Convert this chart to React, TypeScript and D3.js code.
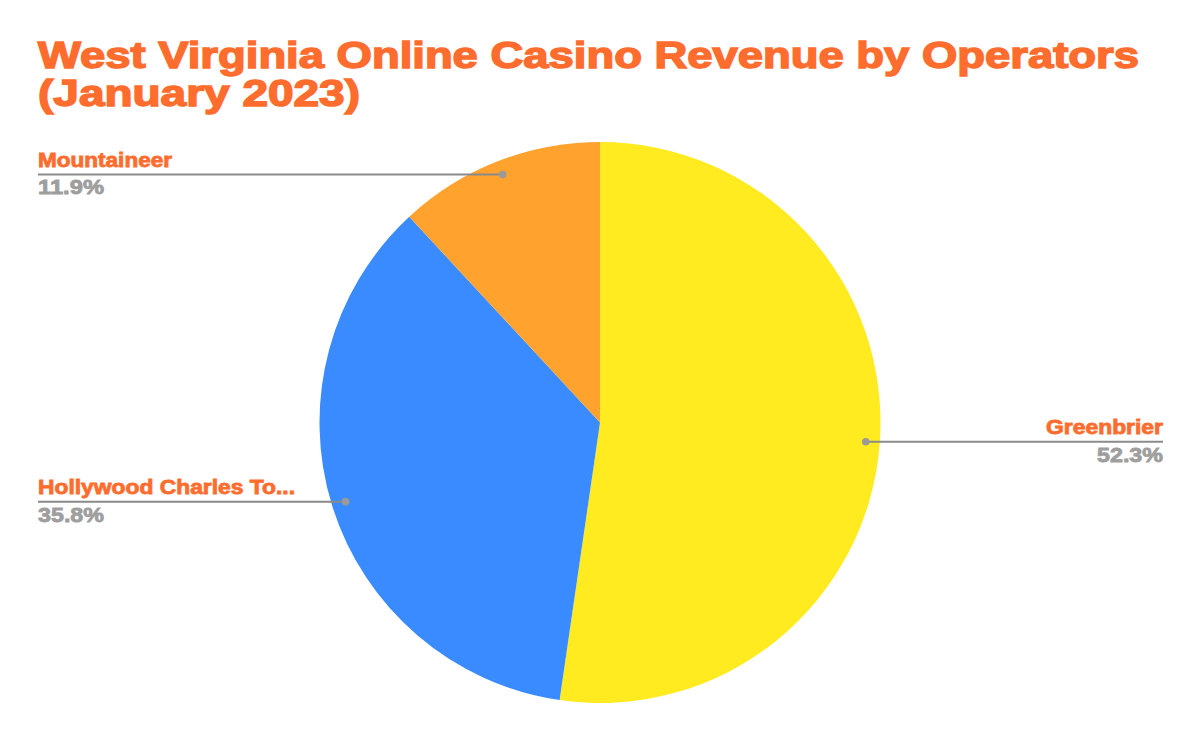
import React from "react";
import * as d3 from "d3";

const categories = ["Greenbrier", "Hollywood Charles To...", "Mountaineer"];
const shares = [52.3, 35.8, 11.9];
const shareLabels = ["52.3%", "35.8%", "11.9%"];
const colors = ["#FFEB1F", "#3A8BFF", "#FFA22E"];
const titleLines = ["West Virginia Online Casino Revenue by Operators", "(January 2023)"];

const W = 1200;
const H = 742;
const cx = 600;
const cy = 422.5;
const R = 280.5;
const leftX = 38;
const rightX = 1163;
const titleColor = "#FF6D2E";
const labelWidths = [117, 257, 134];
const pctWidth = 66;

export default function App() {
  const pie = d3.pie<number>().sort(null).value((d) => d)(shares);
  const arc = d3.arc<d3.PieArcDatum<number>>().innerRadius(0).outerRadius(R);
  const dotArc = d3.arc<d3.PieArcDatum<number>>().innerRadius(R * 0.95).outerRadius(R * 0.95);
  const font = "'Liberation Sans', Arial, sans-serif";

  return (
    <svg width={W} height={H} style={{ position: "absolute", left: 0, top: 0, background: "#fff" }}>
      <rect width={W} height={H} fill="#fff" />
      {titleLines.map((t, i) => (
        <text
          key={i}
          x={leftX}
          y={68 + i * 38}
          fontFamily={font}
          fontWeight="bold"
          fontSize={37.5}
          fill={titleColor}
          stroke={titleColor}
          strokeWidth={1.5}
          textLength={i === 0 ? 1101 : 322}
          lengthAdjust="spacingAndGlyphs"
        >
          {t}
        </text>
      ))}
      <g transform={`translate(${cx},${cy})`}>
        {pie.map((p, i) => (
          <path key={i} d={arc(p) || ""} fill={colors[i]} />
        ))}
      </g>
      {pie.map((p, i) => {
        const [dx, dy] = dotArc.centroid(p);
        const px = cx + dx;
        const py = cy + dy;
        const right = dx > 0;
        const endX = right ? rightX : leftX;
        const anchor = right ? "end" : "start";
        return (
          <g key={i}>
            <line x1={px} y1={py} x2={endX} y2={py} stroke="#8a8a8a" strokeWidth={2} />
            <circle cx={px} cy={py} r={3.8} fill="#9a9a9a" />
            <text
              x={endX}
              y={py - 7.5}
              textAnchor={anchor}
              fontFamily={font}
              fontWeight="bold"
              fontSize={20}
              fill={titleColor}
              stroke={titleColor}
              strokeWidth={0.8}
              textLength={labelWidths[i]}
              lengthAdjust="spacingAndGlyphs"
            >
              {categories[i]}
            </text>
            <text
              x={endX}
              y={py + 20}
              textAnchor={anchor}
              fontFamily={font}
              fontWeight="bold"
              fontSize={20}
              fill="#9e9e9e"
              stroke="#9e9e9e"
              strokeWidth={0.8}
              textLength={pctWidth}
              lengthAdjust="spacingAndGlyphs"
            >
              {shareLabels[i]}
            </text>
          </g>
        );
      })}
    </svg>
  );
}
